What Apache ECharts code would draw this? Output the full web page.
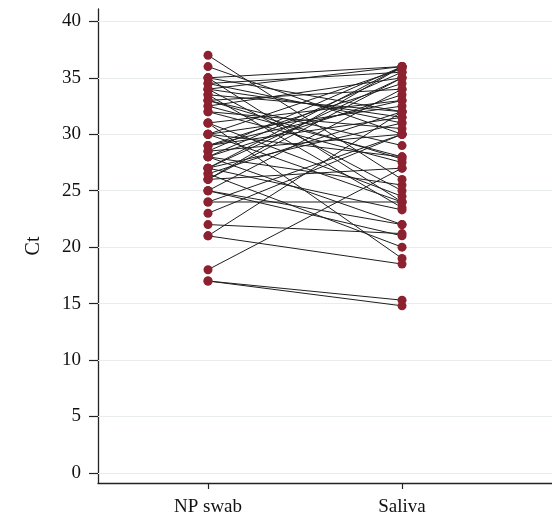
<!DOCTYPE html>
<html><head><meta charset="utf-8">
<script src="https://cdn.jsdelivr.net/npm/echarts@6/dist/echarts.min.js"></script>
<style>html,body{margin:0;padding:0;background:#fff}#c{width:552px;height:521px}</style>
</head><body><div id="c"></div>
<script>
var categories = ['NP swab', 'Saliva'];
var yTicks = [0, 5, 10, 15, 20, 25, 30, 35, 40];
var npSwab = [37, 36, 35, 35, 34.5, 34.5, 34, 34, 33.5, 33.5, 33, 33, 32.5, 32, 32, 31, 31, 31,
  30, 30, 30, 30, 29, 29, 28.5, 28.5, 28, 28, 28, 27, 27, 27, 26.5, 26.5, 26, 26, 25, 25, 25,
  24, 24, 23, 22, 21, 21, 18, 17, 17,
  27, 26, 28, 29, 32.5, 33, 34, 35];
var saliva = [26, 30, 36, 24, 35.5, 31, 36, 25, 32, 23.5, 34, 29, 35, 30.5, 27.5, 33, 24.5, 19,
  35.8, 32.5, 28, 24, 31.5, 34.5, 36, 30, 33.5, 25.5, 22, 35, 31, 23.3, 32, 20, 36, 27, 34, 21, 22,
  30, 24, 30, 21.2, 18.5, 32, 27, 15.3, 14.8,
  36, 35, 35.5, 33, 28, 27.8, 31.5, 32];

var series = [];
for (var i = 0; i < npSwab.length; i++) {
  series.push({
    type: 'line', symbol: 'none', silent: true, z: 2,
    lineStyle: { color: '#1e1e1e', width: 1 },
    data: [[1, npSwab[i]], [2, saliva[i]]]
  });
}
var pts = [];
for (var j = 0; j < npSwab.length; j++) { pts.push([1, npSwab[j]]); pts.push([2, saliva[j]]); }
series.push({
  type: 'scatter', symbolSize: 9, z: 5,
  itemStyle: { color: '#8c2230', opacity: 1 },
  data: pts,
  markLine: {
    silent: true, symbol: 'none', z: 1,
    lineStyle: { color: '#e9eded', width: 1, type: 'solid' },
    label: { show: false },
    data: yTicks.map(function (v) { return { yAxis: v }; })
  }
});

var chart = echarts.init(document.getElementById('c'));
chart.setOption({
  animation: false,
  textStyle: { fontFamily: 'Liberation Serif' },
  grid: { left: 98, right: 0, top: 9, bottom: 38 },
  xAxis: {
    type: 'value', min: 0.433, max: 2.773,
    splitLine: { show: false },
    axisLine: { show: true, onZero: false, lineStyle: { color: '#222', width: 1.3 } },
    axisTick: { show: true, customValues: [1, 2], length: 6, lineStyle: { color: '#222', width: 1.2 } },
    axisLabel: {
      customValues: [1, 2], margin: 15, color: '#111', fontSize: 19, fontFamily: 'Liberation Serif',
      formatter: function (v) { return categories[Math.round(v) - 1] || ''; }
    }
  },
  yAxis: {
    type: 'value', min: -0.9, max: 41.1,
    name: 'Ct', nameLocation: 'middle', nameGap: 54, nameRotate: 90,
    nameTextStyle: { fontSize: 20, color: '#111', fontFamily: 'Liberation Serif' },
    splitLine: { show: false },
    axisLine: { show: true, onZero: false, lineStyle: { color: '#222', width: 1.3 } },
    axisTick: { show: true, customValues: yTicks, length: 9, lineStyle: { color: '#222', width: 1.2 } },
    axisLabel: { customValues: yTicks, margin: 17, color: '#111', fontSize: 19, fontFamily: 'Liberation Serif' }
  },
  series: series
});
</script></body></html>
